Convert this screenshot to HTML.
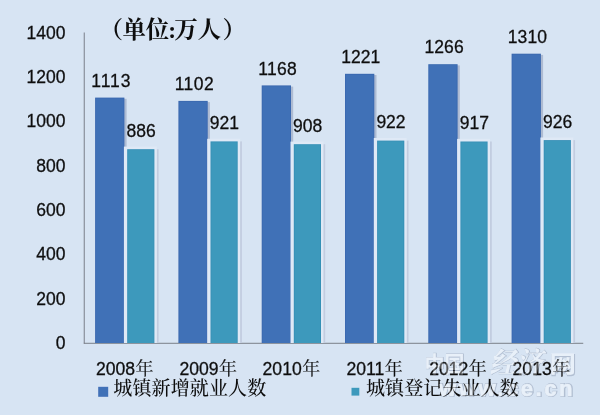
<!DOCTYPE html>
<html lang="zh-CN"><head><meta charset="utf-8"><title>chart</title>
<style>
html,body{margin:0;padding:0;background:#d7e4f3;}
body{width:600px;height:415px;overflow:hidden;}
svg{display:block;}
text{font-family:"Liberation Sans","Noto Sans CJK SC",sans-serif;}
.fg{fill:#111;}
.ax,.val,.yr{stroke:#111;stroke-width:0.3px;}
.cjk{stroke-width:0.15px;}
.ax{font-size:17.5px;}
.val{font-size:17.5px;}
.yr{font-size:17.6px;}
.cjk{font-family:"Liberation Serif","Noto Serif CJK SC",serif;font-size:18px;}
.lg{font-size:19px;font-weight:500;letter-spacing:0.12px;font-family:"Liberation Serif","Noto Serif CJK SC",serif;}
.ttl{font-size:23.5px;font-weight:700;font-family:"Liberation Serif","Noto Serif CJK SC",serif;}
.wm text{font-family:"Liberation Sans","Noto Sans CJK SC",sans-serif;font-weight:700;}
.wm .kai{font-family:"Liberation Serif","Noto Serif CJK SC",serif;font-style:italic;}
.ws{fill:#8e9bb2;stroke:#8e9bb2;stroke-width:1px;}
.wsu{fill:#8e9bb2;stroke:#8e9bb2;stroke-width:2px;}
.ww{fill:#f2f6fb;}
.wwu{fill:#f2f6fb;stroke:#f2f6fb;stroke-width:0.7px;}
</style></head><body>
<svg width="600" height="415" viewBox="0 0 600 415">
<defs><filter id="bl" x="-5%" y="-5%" width="110%" height="110%"><feGaussianBlur stdDeviation="0.55"/></filter>
<g id="wma" class="wm">
<text x="424.5" y="371.5" font-size="22" textLength="40" lengthAdjust="spacingAndGlyphs">中国</text>
<text class="kai" x="489.5" y="372.5" font-size="29" textLength="53" lengthAdjust="spacingAndGlyphs">经济</text>
<text x="549.5" y="372" font-size="23" textLength="26.5" lengthAdjust="spacingAndGlyphs">网</text>
</g>
<g id="wmb" class="wm">
<text x="439" y="395.6" font-size="22" textLength="133.5" lengthAdjust="spacing">www.ce.cn</text>
</g>
</defs>
<rect width="600" height="415" fill="#d7e4f3"/>
<g class="fg" filter="url(#bl)">
<g opacity="0.5"><use href="#wma" class="ws" x="0.6" y="0.6"/><use href="#wmb" class="wsu" x="0.6" y="0.6"/><use href="#wma" class="ww"/><use href="#wmb" class="wwu"/></g>
<rect x="83.75" y="32.5" width="0.95" height="311" fill="#757a83"/>
<rect x="83.75" y="342.8" width="499.5" height="0.95" fill="#757a83"/>
<rect x="96.6" y="98.8" width="30.0" height="244.2" fill="#aebbd2"/>
<rect x="95.1" y="97.6" width="29.3" height="245.4" fill="#3a69b0"/>
<rect x="96.0" y="98.5" width="27.5" height="244.5" fill="#4171b7"/>
<rect x="156.6" y="149.2" width="2.0" height="193.8" fill="#c2cde0"/>
<rect x="123.9" y="146.6" width="32.9" height="196.4" fill="#dfe9f6"/>
<rect x="127.2" y="149.2" width="27.2" height="193.8" fill="#3690b6"/>
<rect x="128.1" y="150.1" width="25.4" height="192.9" fill="#3e99bc"/>
<text class="val" text-anchor="middle" x="111.3" y="86.8" letter-spacing="0.9">1113</text>
<text class="val" text-anchor="middle" x="141.1" y="137.0">886</text>
<text class="yr" text-anchor="middle" x="124.8" y="374.8">2008<tspan class="cjk" dx="0.5">年</tspan></text>
<rect x="179.9" y="102.1" width="30.0" height="240.9" fill="#aebbd2"/>
<rect x="178.4" y="100.9" width="29.3" height="242.1" fill="#3a69b0"/>
<rect x="179.3" y="101.8" width="27.5" height="241.2" fill="#4171b7"/>
<rect x="239.9" y="141.4" width="2.0" height="201.6" fill="#c2cde0"/>
<rect x="207.2" y="138.8" width="32.9" height="204.2" fill="#dfe9f6"/>
<rect x="210.5" y="141.4" width="27.2" height="201.6" fill="#3690b6"/>
<rect x="211.4" y="142.3" width="25.4" height="200.7" fill="#3e99bc"/>
<text class="val" text-anchor="middle" x="194.4" y="90.1" letter-spacing="0.45">1102</text>
<text class="val" text-anchor="middle" x="224.4" y="129.2">921</text>
<text class="yr" text-anchor="middle" x="208.2" y="374.8">2009<tspan class="cjk" dx="0.5">年</tspan></text>
<rect x="263.2" y="86.6" width="30.0" height="256.4" fill="#aebbd2"/>
<rect x="261.7" y="85.4" width="29.3" height="257.6" fill="#3a69b0"/>
<rect x="262.6" y="86.3" width="27.5" height="256.7" fill="#4171b7"/>
<rect x="323.2" y="144.2" width="2.0" height="198.8" fill="#c2cde0"/>
<rect x="290.5" y="141.6" width="32.9" height="201.4" fill="#dfe9f6"/>
<rect x="293.8" y="144.2" width="27.2" height="198.8" fill="#3690b6"/>
<rect x="294.7" y="145.1" width="25.4" height="197.9" fill="#3e99bc"/>
<text class="val" text-anchor="middle" x="277.6" y="74.6" letter-spacing="0.3">1168</text>
<text class="val" text-anchor="middle" x="307.7" y="132.0">908</text>
<text class="yr" text-anchor="middle" x="291.4" y="374.8">2010<tspan class="cjk" dx="0.5">年</tspan></text>
<rect x="346.5" y="75.0" width="30.0" height="268.0" fill="#aebbd2"/>
<rect x="345.0" y="73.8" width="29.3" height="269.2" fill="#3a69b0"/>
<rect x="345.9" y="74.7" width="27.5" height="268.3" fill="#4171b7"/>
<rect x="406.5" y="140.6" width="2.0" height="202.4" fill="#c2cde0"/>
<rect x="373.8" y="138.0" width="32.9" height="205.0" fill="#dfe9f6"/>
<rect x="377.1" y="140.6" width="27.2" height="202.4" fill="#3690b6"/>
<rect x="378.0" y="141.5" width="25.4" height="201.5" fill="#3e99bc"/>
<text class="val" text-anchor="middle" x="360.8" y="63.0" letter-spacing="0.1">1221</text>
<text class="val" text-anchor="middle" x="391.0" y="128.4">922</text>
<text class="yr" text-anchor="middle" x="374.7" y="374.8">2011<tspan class="cjk" dx="0.5">年</tspan></text>
<rect x="429.8" y="65.4" width="30.0" height="277.6" fill="#aebbd2"/>
<rect x="428.3" y="64.2" width="29.3" height="278.8" fill="#3a69b0"/>
<rect x="429.2" y="65.1" width="27.5" height="277.9" fill="#4171b7"/>
<rect x="489.8" y="141.5" width="2.0" height="201.5" fill="#c2cde0"/>
<rect x="457.1" y="138.9" width="32.9" height="204.1" fill="#dfe9f6"/>
<rect x="460.4" y="141.5" width="27.2" height="201.5" fill="#3690b6"/>
<rect x="461.3" y="142.4" width="25.4" height="200.6" fill="#3e99bc"/>
<text class="val" text-anchor="middle" x="444.1" y="53.4" letter-spacing="0.1">1266</text>
<text class="val" text-anchor="middle" x="474.3" y="129.3">917</text>
<text class="yr" text-anchor="middle" x="458.0" y="374.8">2012<tspan class="cjk" dx="0.5">年</tspan></text>
<rect x="513.1" y="54.9" width="30.0" height="288.1" fill="#aebbd2"/>
<rect x="511.6" y="53.7" width="29.3" height="289.3" fill="#3a69b0"/>
<rect x="512.5" y="54.6" width="27.5" height="288.4" fill="#4171b7"/>
<rect x="573.1" y="140.1" width="2.0" height="202.9" fill="#c2cde0"/>
<rect x="540.4" y="137.5" width="32.9" height="205.5" fill="#dfe9f6"/>
<rect x="543.7" y="140.1" width="27.2" height="202.9" fill="#3690b6"/>
<rect x="544.6" y="141.0" width="25.4" height="202.0" fill="#3e99bc"/>
<text class="val" text-anchor="middle" x="527.4" y="42.9" letter-spacing="0.1">1310</text>
<text class="val" text-anchor="middle" x="557.6" y="127.9">926</text>
<text class="yr" text-anchor="middle" x="541.4" y="374.8">2013<tspan class="cjk" dx="0.5">年</tspan></text>
<text class="ax" text-anchor="end" x="65.5" y="348.8">0</text>
<text class="ax" text-anchor="end" x="65.5" y="304.5">200</text>
<text class="ax" text-anchor="end" x="65.5" y="260.2">400</text>
<text class="ax" text-anchor="end" x="65.5" y="215.9">600</text>
<text class="ax" text-anchor="end" x="65.5" y="171.7">800</text>
<text class="ax" text-anchor="end" x="65.5" y="127.4">1000</text>
<text class="ax" text-anchor="end" x="65.5" y="83.1">1200</text>
<text class="ax" text-anchor="end" x="65.5" y="38.8">1400</text>
<text class="ttl" x="99.5 122.5 145.8 168.3 174.3 197.6 222.5" y="37.5">（单位:万人）</text>
<rect x="98.2" y="386.8" width="10" height="10" fill="#4171b7"/>
<text class="lg" x="113.3" y="395">城镇新增就业人数</text>
<rect x="351.5" y="387.8" width="7.8" height="7.8" fill="#3e99bc"/>
<text class="lg" x="366" y="395">城镇登记失业人数</text>
<g opacity="0.3"><use href="#wma" class="ww"/><use href="#wmb" class="ww"/></g>
</g></svg></body></html>
